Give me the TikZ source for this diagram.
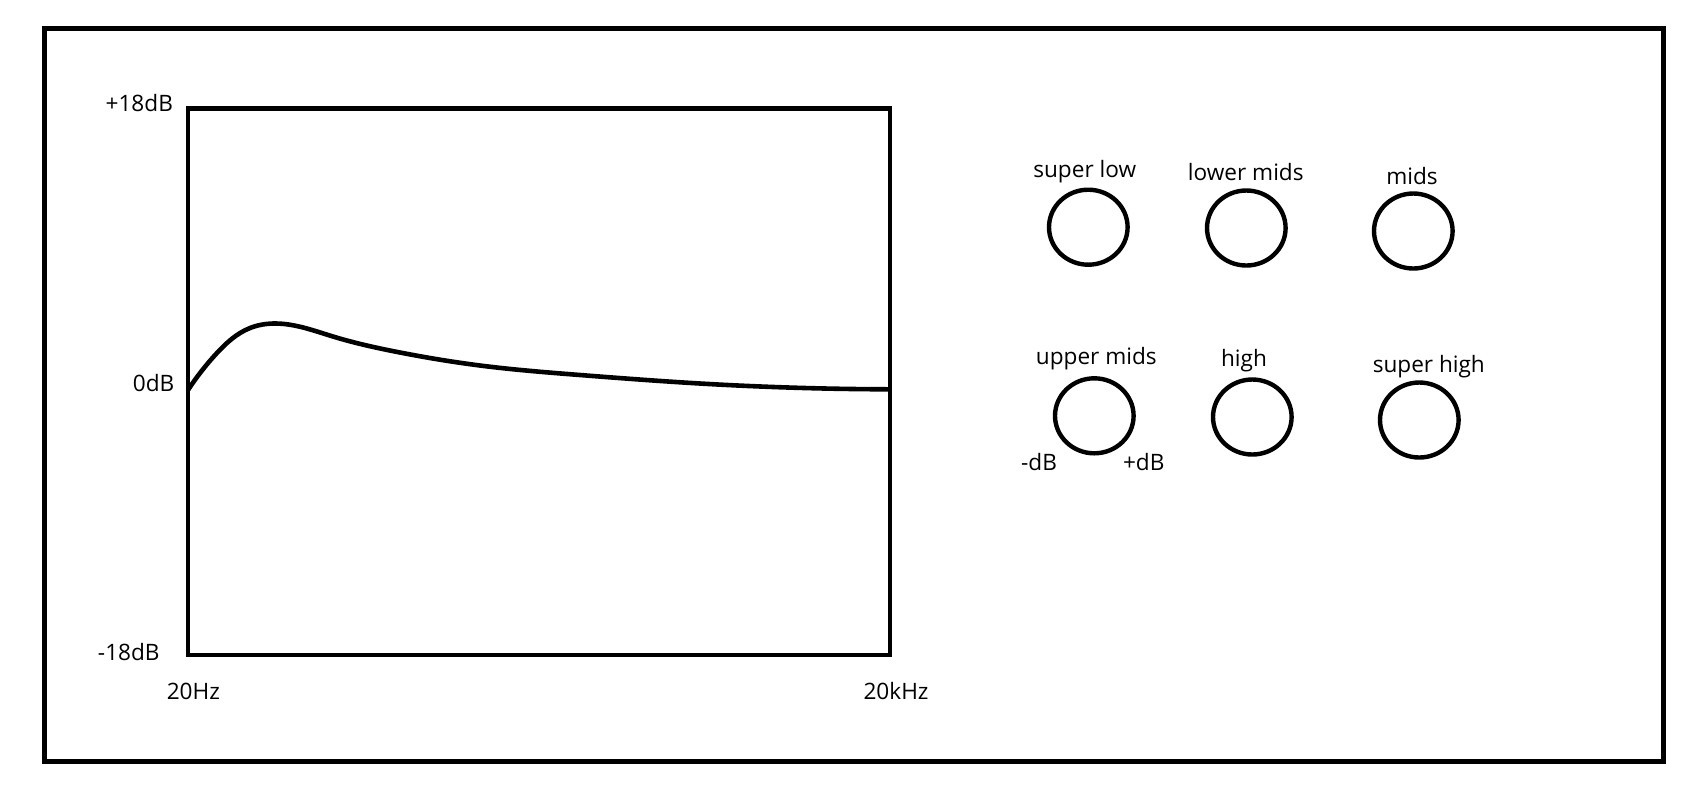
\documentclass[tikz,border=0pt]{standalone}
\usepackage{fontspec}
\setmainfont{Open Sans}
\usetikzlibrary{shapes.geometric,hobby}
\tikzset{
  frame/.style={draw=black, line width=2.35pt},
  curve/.style={draw=black, line width=2.3pt, line join=round},
  knob/.style={draw=black, ellipse, line width=2.2pt, minimum width=39.3pt, minimum height=37.5pt, inner sep=0pt},
  lbl/.style={inner sep=0pt, anchor=base, font=\fontsize{11.3pt}{13pt}\selectfont},
  axl/.style={inner sep=0pt, anchor=base east, font=\fontsize{11.3pt}{13pt}\selectfont}
}
\begin{document}
\begin{tikzpicture}[x=0.5pt,y=-0.5pt]
\useasboundingbox (0,0) rectangle (1693,784);
% outer panel
\draw[frame] (44.7,28.7) rectangle (1663.3,761.3);
% graph box
\draw[frame] (188,108.7) rectangle (890,655);
% response curve
\coordinate (c0) at (188,390);
\coordinate (c1) at (890,389.3);
\draw[curve, use Hobby shortcut] (c0) .. (216,354) .. (250,328) .. (276,323.5) .. (333,336.5) .. (400,352.5) .. (480,365.5) .. (580,375) .. (700,383.5) .. (c1);
% axis labels
\node[axl] (p18) at (173.3,111.7) {+18dB};
\node[axl] (z0) at (174.7,391.7) {0dB};
\node[axl] (m18) at (160,660.7) {-18dB};
\node[lbl] (f20) at (193.3,699) {20Hz};
\node[lbl] (f20k) at (896,699) {20kHz};
% knobs
\node[knob] (k1) at (1088.3,227.2) {};
\node[knob] (k2) at (1246.3,228) {};
\node[knob] (k3) at (1413.3,231) {};
\node[knob] (k4) at (1094.3,415.8) {};
\node[knob] (k5) at (1252.3,417) {};
\node[knob] (k6) at (1419.3,420) {};
% knob labels
\node[lbl] (t1) at (1084.7,177.3) {super low};
\node[lbl] (t2) at (1245.8,180.7) {lower mids};
\node[lbl] (t3) at (1412,184.3) {mids};
\node[lbl] (t4) at (1096.3,364.3) {upper mids};
\node[lbl] (t5) at (1244,366.7) {high};
\node[lbl] (t6) at (1428.8,372.3) {super high};
\node[lbl] (mdb) at (1039,470) {-dB};
\node[lbl] (pdb) at (1143.7,470) {+dB};
\end{tikzpicture}
\end{document}
